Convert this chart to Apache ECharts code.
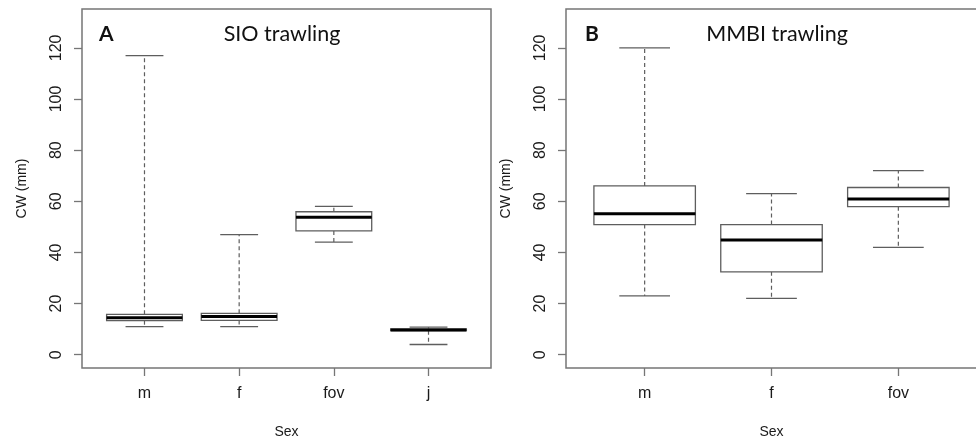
<!DOCTYPE html>
<html><head><meta charset="utf-8">
<script src="https://cdn.jsdelivr.net/npm/echarts@6/dist/echarts.min.js"></script>
<style>html,body{margin:0;padding:0;background:#fff}#c{width:976px;height:440px}</style>
</head><body><div id="c"></div>
<script>
// Panel A: SIO trawling
const categoriesA = ['m', 'f', 'fov', 'j'];
const minA    = [11, 11, 44, 4];
const q1A     = [13.3, 13.4, 48.4, 9.4];
const medianA = [14.5, 14.9, 53.8, 9.7];
const q3A     = [15.8, 16.2, 55.9, 10.1];
const maxA    = [117, 47, 58, 10.8];

// Panel B: MMBI trawling
const categoriesB = ['m', 'f', 'fov'];
const minB    = [23, 22, 42];
const q1B     = [50.9, 32.4, 57.9];
const medianB = [55.1, 44.9, 60.9];
const q3B     = [66, 50.9, 65.4];
const maxB    = [120, 63, 72];

const yTicks = [0, 20, 40, 60, 80, 100, 120];
const panelLetters = ['A', 'B'];
const panelTitles = ['SIO trawling', 'MMBI trawling'];
const yName = 'CW (mm)';
const xName = 'Sex';

const gray = '#5e5e5e';
const frameGray = '#767676';
const labelFont = 'Liberation Sans';
const titleFont = 'Lato';

function buildRows(cats, mn, a, m, b, mx) {
  return cats.map((c, i) => [i + 1, mn[i], a[i], m[i], b[i], mx[i]]);
}

function renderBox(params, api) {
  const x = api.value(0);
  const pLo = api.coord([x, api.value(1)]);
  const pQ1 = api.coord([x, api.value(2)]);
  const pMed = api.coord([x, api.value(3)]);
  const pQ3 = api.coord([x, api.value(4)]);
  const pHi = api.coord([x, api.value(5)]);
  const w = api.size([0.8, 0])[0];
  const cw = api.size([0.4, 0])[0];
  const cx = pLo[0];
  const dash = { stroke: gray, lineWidth: 1.2, lineDash: [4, 3] };
  const solid = { stroke: gray, lineWidth: 1.3 };
  return {
    type: 'group',
    children: [
      { type: 'line', shape: { x1: cx, y1: pQ3[1], x2: cx, y2: pHi[1] }, style: dash },
      { type: 'line', shape: { x1: cx, y1: pQ1[1], x2: cx, y2: pLo[1] }, style: dash },
      { type: 'line', shape: { x1: cx - cw / 2, y1: pHi[1], x2: cx + cw / 2, y2: pHi[1] }, style: solid },
      { type: 'line', shape: { x1: cx - cw / 2, y1: pLo[1], x2: cx + cw / 2, y2: pLo[1] }, style: solid },
      { type: 'rect', shape: { x: cx - w / 2, y: pQ3[1], width: w, height: pQ1[1] - pQ3[1] }, style: { fill: '#fff', stroke: gray, lineWidth: 1.3 } },
      { type: 'line', shape: { x1: cx - w / 2, y1: pMed[1], x2: cx + w / 2, y2: pMed[1] }, style: { stroke: '#000', lineWidth: 3 } }
    ]
  };
}

function makeX(idx, cats) {
  const n = cats.length;
  const ext = n * 0.04;
  return {
    gridIndex: idx, type: 'value', min: 0.5 - ext, max: n + 0.5 + ext, position: 'bottom',
    name: xName, nameLocation: 'middle', nameGap: 57,
    nameTextStyle: { fontFamily: labelFont, fontSize: 14, color: '#1a1a1a' },
    axisLine: { show: false, onZero: false }, splitLine: { show: false },
    axisTick: { show: true, length: 8, inside: false, customValues: cats.map((c, i) => i + 1), lineStyle: { color: frameGray, width: 1.3 } },
    axisLabel: { customValues: cats.map((c, i) => i + 1), formatter: v => cats[Math.round(v) - 1] || '', fontFamily: labelFont, fontSize: 16, color: '#1a1a1a', margin: 18 }
  };
}
function makeY(idx) {
  return {
    gridIndex: idx, type: 'value', min: -5.2, max: 135.2, position: 'left',
    name: yName, nameLocation: 'middle', nameGap: 53,
    nameTextStyle: { fontFamily: labelFont, fontSize: 14, color: '#1a1a1a' },
    axisLine: { show: false, onZero: false }, splitLine: { show: false },
    axisTick: { show: true, length: 8, inside: false, customValues: yTicks, lineStyle: { color: frameGray, width: 1.3 } },
    axisLabel: { customValues: yTicks, rotate: 90, fontFamily: labelFont, fontSize: 16, color: '#1a1a1a', margin: 17 }
  };
}

const chart = echarts.init(document.getElementById('c'));
chart.setOption({
  animation: false,
  backgroundColor: '#fff',
  grid: [
    { left: 82, top: 9, width: 409, height: 359, outerBoundsMode: 'none', containLabel: false, show: true, borderColor: frameGray, borderWidth: 1.5, backgroundColor: 'transparent' },
    { left: 566, top: 9, width: 411, height: 359, outerBoundsMode: 'none', containLabel: false, show: true, borderColor: frameGray, borderWidth: 1.5, backgroundColor: 'transparent' }
  ],
  xAxis: [makeX(0, categoriesA), makeX(1, categoriesB)],
  yAxis: [makeY(0), makeY(1)],
  series: [
    { type: 'custom', xAxisIndex: 0, yAxisIndex: 0, renderItem: renderBox, encode: { x: 0, y: [1, 2, 3, 4, 5] },
      data: buildRows(categoriesA, minA, q1A, medianA, q3A, maxA) },
    { type: 'custom', xAxisIndex: 1, yAxisIndex: 1, renderItem: renderBox, encode: { x: 0, y: [1, 2, 3, 4, 5] },
      data: buildRows(categoriesB, minB, q1B, medianB, q3B, maxB) }
  ],
  graphic: [
    { type: 'text', x: 99, y: 34, style: { text: panelLetters[0], font: 'bold 21px ' + titleFont, fill: '#111', textVerticalAlign: 'middle' } },
    { type: 'text', x: 282, y: 34, style: { text: panelTitles[0], font: '21.5px ' + titleFont, fill: '#111', textAlign: 'center', textVerticalAlign: 'middle' } },
    { type: 'text', x: 585, y: 34, style: { text: panelLetters[1], font: 'bold 21px ' + titleFont, fill: '#111', textVerticalAlign: 'middle' } },
    { type: 'text', x: 777, y: 34, style: { text: panelTitles[1], font: '21.5px ' + titleFont, fill: '#111', textAlign: 'center', textVerticalAlign: 'middle' } }
  ]
});
</script></body></html>
